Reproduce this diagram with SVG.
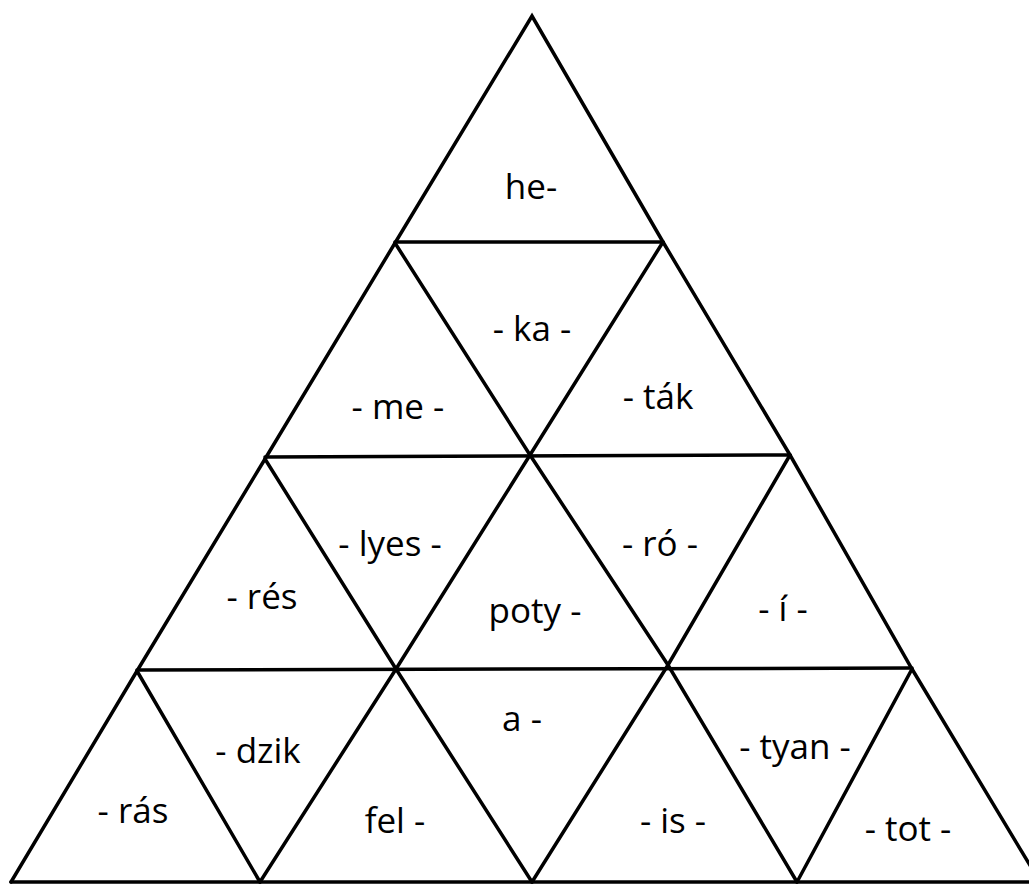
<svg xmlns="http://www.w3.org/2000/svg" width="1029" height="884" viewBox="0 0 1029 884">
<style>
.l{stroke:#000;stroke-width:3.5;fill:none;stroke-linecap:round}
text{font-family:"Open Sans","Liberation Sans",sans-serif;font-size:35px;fill:#000;text-anchor:middle}
</style>
<rect width="1029" height="884" fill="#fff"/>
<g id="connectors">
<polyline class="l" points="11,882 137,671 265,459 395,243 532,16 663,242 790,455 912,669 1040,882"/>
<line class="l" x1="395" y1="242" x2="663" y2="242"/>
<line class="l" x1="265" y1="457" x2="790" y2="455"/>
<line class="l" x1="137" y1="670" x2="912" y2="668"/>
<line class="l" x1="11" y1="882" x2="1029" y2="882"/>
<polyline class="l" points="395,243 530,455 668,665 797,882"/>
<polyline class="l" points="663,242 530,455 396,669 260,882"/>
<polyline class="l" points="265,459 396,669 532,882"/>
<polyline class="l" points="790,455 668,665 532,882"/>
<line class="l" x1="137" y1="671" x2="260" y2="882"/>
<line class="l" x1="912" y1="669" x2="797" y2="882"/>
</g>
<g id="t1"><text x="531" y="199">he-</text></g>
<g id="t2"><text x="532" y="341">- ka -</text></g>
<g id="t3"><text x="398" y="419">- me -</text></g>
<g id="t4"><text x="658" y="409">- ták</text></g>
<g id="t5"><text x="390" y="556">- lyes -</text></g>
<g id="t6"><text x="660" y="556">- ró -</text></g>
<g id="t7"><text x="262" y="609">- rés</text></g>
<g id="t8"><text x="535" y="623">poty -</text></g>
<g id="t9"><text x="783" y="621">- í -</text></g>
<g id="t10"><text x="258" y="763">- dzik</text></g>
<g id="t11"><text x="522" y="731">a -</text></g>
<g id="t12"><text x="795" y="759">- tyan -</text></g>
<g id="t13"><text x="133" y="823">- rás</text></g>
<g id="t14"><text x="395" y="833">fel -</text></g>
<g id="t15"><text x="673" y="833">- is -</text></g>
<g id="t16"><text x="908" y="841">- tot -</text></g>
</svg>
